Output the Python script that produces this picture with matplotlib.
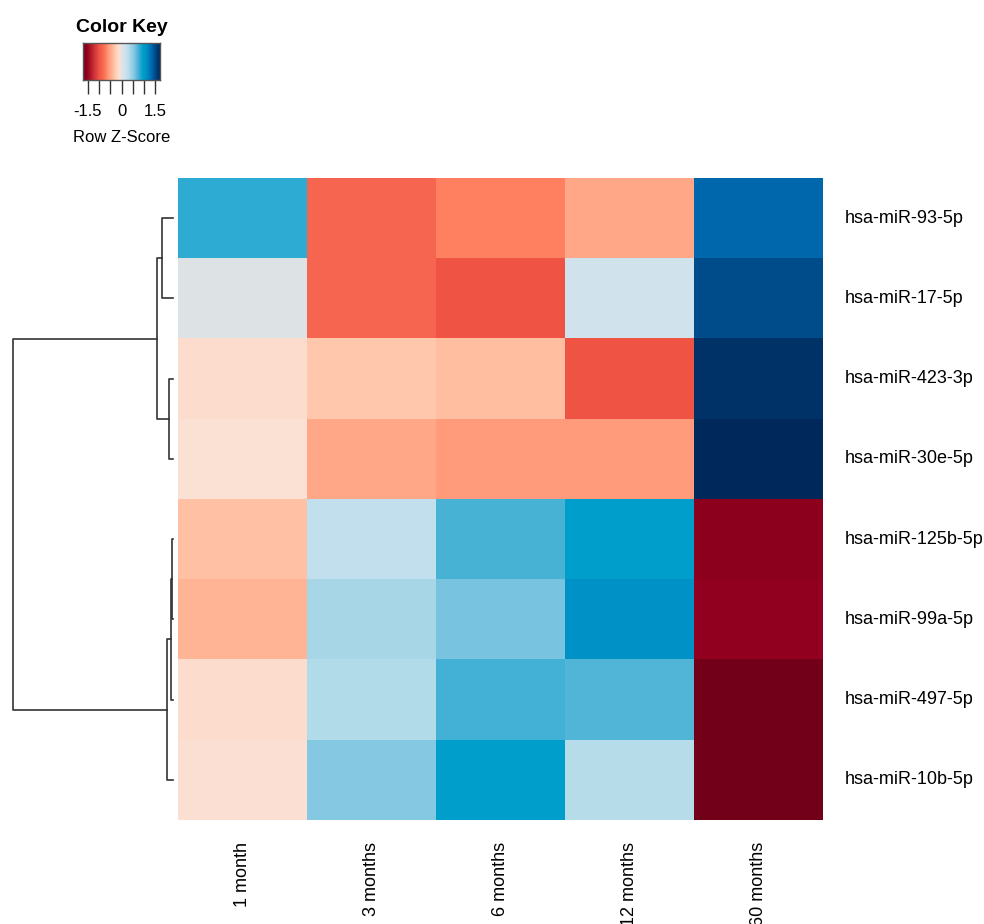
import matplotlib

matplotlib.use("Agg")
import matplotlib.pyplot as plt
import numpy as np
from matplotlib.colors import LinearSegmentedColormap

plt.rcParams["font.family"] = ["Liberation Sans", "DejaVu Sans"]

# row z-scores (rows top to bottom, columns left to right)
genes = ["hsa-miR-93-5p", "hsa-miR-17-5p", "hsa-miR-423-3p", "hsa-miR-30e-5p",
         "hsa-miR-125b-5p", "hsa-miR-99a-5p", "hsa-miR-497-5p", "hsa-miR-10b-5p"]
times = ["1 month", "3 months", "6 months", "12 months", "60 months"]
z_93 = [0.82, -0.85, -0.70, -0.50, 1.35]
z_17 = [0.05, -0.85, -1.00, 0.15, 1.50]
z_423 = [-0.15, -0.30, -0.36, -1.00, 1.65]
z_30e = [-0.10, -0.50, -0.57, -0.57, 1.75]
z_125b = [-0.35, 0.25, 0.75, 0.95, -1.58]
z_99a = [-0.42, 0.40, 0.60, 1.10, -1.55]
z_497 = [-0.15, 0.35, 0.76, 0.72, -1.72]
z_10b = [-0.12, 0.55, 0.95, 0.32, -1.72]

# row dendrogram merges: (left member, right member, height); members >= 8 are earlier merges
merges = [(4, 5, 1.3), (8, 6, 2.3), (2, 3, 4.0), (9, 7, 6.3),
          (0, 1, 10.7), (12, 10, 16.3), (13, 11, 159.7)]

vlim = 1.72
key_ticks = [-1.5, -1.0, -0.5, 0.0, 0.5, 1.0, 1.5]
key_labels = ["-1.5", "", "", "0", "", "", "1.5"]

anchors = [
    (-1.80, "#67001a"), (-1.70, "#780019"), (-1.55, "#940020"), (-1.25, "#c83035"),
    (-1.00, "#f05545"), (-0.85, "#f76650"), (-0.70, "#ff8060"), (-0.55, "#ffa080"),
    (-0.40, "#ffb898"), (-0.25, "#ffd0b8"), (-0.10, "#fbe2d6"), (0.05, "#dde2e6"),
    (0.15, "#d0e4ee"), (0.35, "#b2dbea"), (0.55, "#88c9e2"), (0.75, "#4ab3d6"),
    (0.95, "#00a0cc"), (1.10, "#0094c8"), (1.35, "#006ab0"), (1.50, "#004d8c"),
    (1.65, "#00336a"), (1.80, "#002555"),
]
lo, hi = anchors[0][0], anchors[-1][0]
cmap = LinearSegmentedColormap.from_list(
    "key", [((v - lo) / (hi - lo), c) for v, c in anchors])

data = np.array([z_93, z_17, z_423, z_30e, z_125b, z_99a, z_497, z_10b])
n_rows, n_cols = data.shape

W, H = 984, 924
fig = plt.figure(figsize=(W / 100, H / 100), dpi=100)


def px_axes(x0, y0, x1, y1):
    return fig.add_axes([x0 / W, 1 - y1 / H, (x1 - x0) / W, (y1 - y0) / H])


# heatmap
ax = px_axes(178, 178, 823, 820)
ax.imshow(data, cmap=cmap, vmin=lo, vmax=hi, aspect="auto",
          extent=(0, n_cols, n_rows, 0), interpolation="nearest")
ax.set_xlim(0, n_cols)
ax.set_ylim(n_rows, 0)
ax.set_xticks([])
ax.set_yticks([])
for s in ax.spines.values():
    s.set_visible(False)
for i, g in enumerate(genes):
    ax.text(n_cols + 0.17, i + 0.5, g, ha="left", va="center", fontsize=13)
for j, t in enumerate(times):
    ax.text(j + 0.5, n_rows + 0.27, t, ha="center", va="top", rotation=90, fontsize=13)

# dendrogram
dax = px_axes(0, 178, 178, 820)
dax.set_xlim(173, -5)
dax.set_ylim(n_rows, 0)
dax.axis("off")
pos = {i: i + 0.5 for i in range(n_rows)}
hgt = {i: 0.0 for i in range(n_rows)}
for k, (a, b, h) in enumerate(merges):
    ya, yb = pos[a], pos[b]
    dax.plot([hgt[a], h, h, hgt[b]], [ya, ya, yb, yb], color="#333333", lw=1.2)
    pos[n_rows + k] = (ya + yb) / 2
    hgt[n_rows + k] = h

# color key
kax = px_axes(83, 43, 160, 80)
grad = np.linspace(-vlim, vlim, 256)[None, :]
kax.imshow(grad, cmap=cmap, vmin=lo, vmax=hi, aspect="auto",
           extent=(-vlim, vlim, 0, 1))
kax.set_xlim(-vlim, vlim)
kax.set_yticks([])
kax.set_xticks(key_ticks)
kax.set_xticklabels(key_labels, fontsize=12)
kax.tick_params(axis="x", length=10, width=1, color="#333333", pad=7)
for s in kax.spines.values():
    s.set_color("#555555")
    s.set_linewidth(1)
kax.set_title("Color Key", fontsize=14, fontweight="bold", pad=8)
kax.set_xlabel("Row Z-Score", fontsize=12, labelpad=8)

fig.savefig("out.png", dpi=100)
